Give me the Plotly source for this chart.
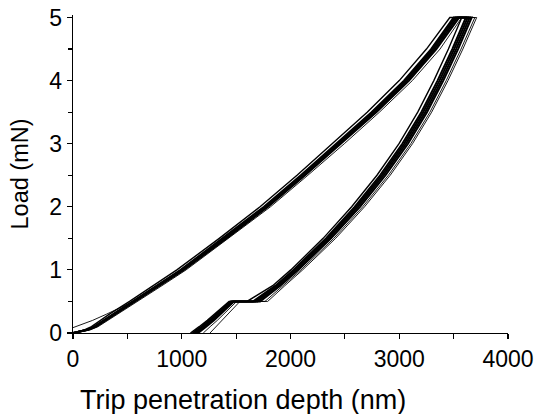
import plotly.graph_objects as go

# ---- Load levels (mN) shared by the curves ----
load_up = [0, 0.05, 0.1, 0.2, 0.3, 0.5, 0.75, 1.0, 1.5, 2.0, 2.5, 3.0, 3.5, 4.0, 4.5, 5.0]
load_up_offset = [0.085, 0.12, 0.2, 0.3, 0.4, 0.5, 0.75, 1.0, 1.5, 2.0, 2.5, 3.0, 3.5, 4.0, 4.5, 5.0]
load_down = [5.0, 4.5, 4.0, 3.5, 3.0, 2.5, 2.0, 1.5, 1.0, 0.75, 0.5]
load_tail = [0.5, 0.4, 0.3, 0.2, 0.1, 0.05, 0]

# ---- Loading branches: depth (nm) at each load_up level ----
up_1 = [0, 105, 170, 255, 335, 520, 740, 955, 1345, 1720, 2060, 2385, 2705, 3000, 3250, 3465]
up_2 = [0, 124, 194, 284, 364, 551, 771, 990, 1378, 1756, 2095, 2425, 2745, 3043, 3293, 3500]
up_3 = [0, 129, 199, 289, 369, 558, 779, 999, 1388, 1768, 2108, 2438, 2758, 3058, 3308, 3517]
up_4 = [0, 135, 206, 296, 377, 567, 788, 1009, 1400, 1781, 2121, 2452, 2773, 3073, 3324, 3534]
up_5 = [0, 141, 213, 303, 385, 577, 798, 1020, 1412, 1794, 2135, 2467, 2789, 3090, 3341, 3552]
up_6 = [0, 160, 230, 322, 404, 596, 818, 1040, 1433, 1816, 2160, 2495, 2818, 3120, 3375, 3575]
up_7 = [0, 60, 180, 310, 430, 555, 775, 995, 1385, 1765, 2105, 2435, 2755, 3055, 3305, 3512]

# ---- Unloading branches (5 mN -> 0.5 mN): depth (nm) at each load_down level ----
down_1 = [3575, 3452, 3318, 3170, 2998, 2795, 2562, 2300, 2003, 1836, 1600]
down_2 = [3612, 3488, 3352, 3203, 3028, 2824, 2590, 2326, 2027, 1862, 1655]
down_3 = [3630, 3505, 3370, 3220, 3045, 2840, 2605, 2340, 2041, 1876, 1675]
down_4 = [3648, 3523, 3388, 3238, 3062, 2856, 2621, 2356, 2056, 1891, 1697]
down_5 = [3666, 3541, 3405, 3255, 3080, 2874, 2639, 2373, 2071, 1906, 1720]
down_6 = [3695, 3568, 3432, 3282, 3106, 2900, 2664, 2398, 2096, 1932, 1765]
down_7 = [3712, 3585, 3448, 3298, 3122, 2917, 2681, 2415, 2112, 1948, 1790]

# ---- Final unloading after the 0.5 mN hold: depth (nm) at each load_tail level ----
tail_1 = [1435, 1370, 1305, 1235, 1160, 1118, 1080]
tail_2 = [1448, 1385, 1320, 1252, 1178, 1138, 1098]
tail_3 = [1458, 1396, 1333, 1266, 1193, 1154, 1115]
tail_4 = [1468, 1407, 1345, 1279, 1207, 1169, 1132]
tail_5 = [1480, 1420, 1359, 1294, 1224, 1187, 1150]
tail_6 = [1505, 1447, 1389, 1327, 1261, 1227, 1198]
tail_7 = [1535, 1480, 1425, 1368, 1308, 1285, 1260]

curves = [
    (up_1, load_up, down_1, tail_1),
    (up_2, load_up, down_2, tail_2),
    (up_3, load_up, down_3, tail_3),
    (up_4, load_up, down_4, tail_4),
    (up_5, load_up, down_5, tail_5),
    (up_6, load_up, down_6, tail_6),
    (up_7, load_up_offset, down_7, tail_7),
]
line_widths = [1.4, 2.0, 2.0, 2.0, 2.0, 0.9, 0.9]

fig = go.Figure()
for (up, upl, down, tail), lw in zip(curves, line_widths):
    fig.add_trace(go.Scatter(
        x=up + down + tail,
        y=upl + load_down + load_tail,
        mode="lines",
        line=dict(color="#000000", width=lw),
        showlegend=False,
        hoverinfo="skip",
    ))

font_family = "Liberation Sans, Arial, sans-serif"

fig.update_layout(
    width=539,
    height=414,
    margin=dict(l=73, r=31, t=14.5, b=81),
    paper_bgcolor="white",
    plot_bgcolor="white",
    font=dict(family=font_family, color="#000000", size=23),
    xaxis=dict(
        range=[0, 4000],
        automargin=False,
        tickvals=[0, 1000, 2000, 3000, 4000],
        ticks="outside",
        ticklen=5,
        tickwidth=1.2,
        tickcolor="#000000",
        ticklabeloverflow="allow",
        minor=dict(tickvals=[500, 1500, 2500, 3500], ticks="outside", ticklen=5, tickwidth=1.2, tickcolor="#000000"),
        showline=True,
        linecolor="#000000",
        linewidth=1.3,
        showgrid=False,
        zeroline=False,
        tickfont=dict(size=23),
    ),
    yaxis=dict(
        range=[0, 5.04],
        automargin=False,
        tickvals=[0, 1, 2, 3, 4, 5],
        ticks="outside",
        ticklen=5,
        tickwidth=1.2,
        tickcolor="#000000",
        ticklabeloverflow="allow",
        minor=dict(tickvals=[0.5, 1.5, 2.5, 3.5, 4.5], ticks="outside", ticklen=4, tickwidth=1.2, tickcolor="#000000"),
        showline=True,
        linecolor="#000000",
        linewidth=1.3,
        showgrid=False,
        zeroline=False,
        tickfont=dict(size=23),
        title=dict(text="Load (mN)", font=dict(size=23.5), standoff=14),
    ),
    annotations=[dict(
        text="Trip penetration depth (nm)",
        xref="paper", yref="paper",
        x=0.39, y=-0.264,
        xanchor="center", yanchor="bottom",
        showarrow=False,
        font=dict(size=27, family=font_family, color="#000000"),
    )],
)

fig.write_html(
    "out.html",
    config={"displayModeBar": False, "staticPlot": True},
    post_script="document.body.style.margin='0px';",
)
